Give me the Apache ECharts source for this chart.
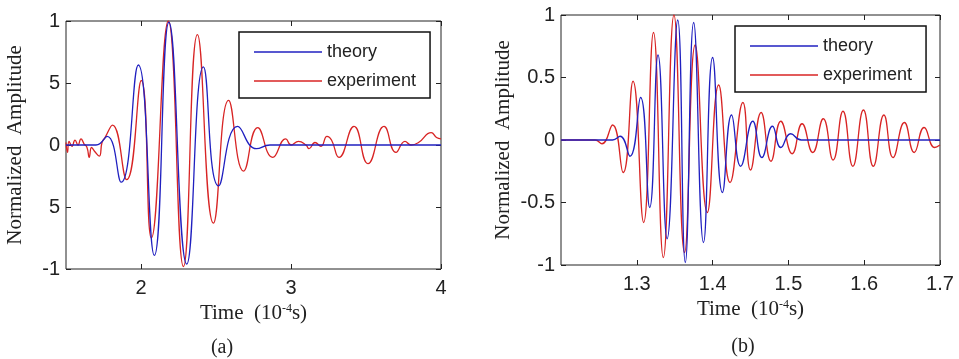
<!DOCTYPE html>
<html>
<head>
<meta charset="utf-8">
<script src="https://cdn.jsdelivr.net/npm/echarts@6/dist/echarts.min.js"></script>
<style>
  html, body { margin: 0; padding: 0; background: #fff; }
  #chart { width: 959px; height: 359px; }
</style>
</head>
<body>
<div id="chart"></div>
<script>
// (a) time in 1e-4 s, normalized amplitude
const leftTheory = [
  [1.5, 0], [1.70, 0], [1.774, 0.07], [1.868, -0.30], [1.982, 0.645],
  [2.089, -0.89], [2.186, 0.99], [2.305, -0.96], [2.416, 0.63],
  [2.517, -0.33], [2.644, 0.15], [2.77, -0.03], [2.86, 0], [4.0, 0]
];
const leftExperiment = [
  [1.5, 0.02], [1.51, -0.06], [1.52, 0.03], [1.54, -0.01], [1.56, 0.04],
  [1.58, 0.0], [1.60, 0.05], [1.62, 0.01], [1.64, -0.02], [1.655, -0.1],
  [1.67, -0.02], [1.69, -0.05], [1.722, -0.09], [1.74, 0.02], [1.76, 0.06],
  [1.81, 0.16], [1.905, -0.28], [2.002, 0.52], [2.069, -0.75], [2.182, 1.0],
  [2.283, -0.98], [2.376, 0.89], [2.483, -0.63], [2.584, 0.36],
  [2.684, -0.21], [2.778, 0.14], [2.878, -0.1], [2.965, 0.05], [3.0, 0.0],
  [3.05, 0.03], [3.1, 0.0], [3.12, -0.03], [3.16, 0.02], [3.2, -0.01],
  [3.24, 0.07], [3.27, 0.04], [3.32, -0.1], [3.42, 0.15], [3.513, -0.15],
  [3.62, 0.15], [3.70, -0.06], [3.76, 0.03], [3.80, 0.0], [3.85, 0.02],
  [3.935, 0.1], [3.97, 0.06], [4.0, 0.05]
];

// (b)
const rightTheory = [
  [1.2, 0], [1.268, 0], [1.278, 0.03], [1.291, -0.13], [1.305, 0.34],
  [1.317, -0.54], [1.328, 0.68], [1.340, -0.79], [1.354, 0.96],
  [1.364, -0.98], [1.375, 0.94], [1.388, -0.82], [1.400, 0.66],
  [1.413, -0.42], [1.425, 0.2], [1.437, -0.21], [1.453, 0.15],
  [1.465, -0.14], [1.479, 0.11], [1.490, -0.06], [1.503, 0.05],
  [1.517, 0], [1.7, 0]
];
const rightExperiment = [
  [1.2, 0], [1.245, 0], [1.254, -0.03], [1.268, 0.12], [1.282, -0.26],
  [1.295, 0.47], [1.309, -0.66], [1.322, 0.86], [1.335, -0.94],
  [1.349, 1.0], [1.363, -0.9], [1.377, 0.76], [1.393, -0.58],
  [1.408, 0.44], [1.423, -0.34], [1.440, 0.3], [1.450, -0.24],
  [1.464, 0.22], [1.477, -0.17], [1.490, 0.15], [1.505, -0.11],
  [1.518, 0.13], [1.532, -0.1], [1.546, 0.17], [1.559, -0.16],
  [1.572, 0.23], [1.585, -0.21], [1.599, 0.24], [1.612, -0.21],
  [1.626, 0.2], [1.638, -0.14], [1.653, 0.14], [1.666, -0.1],
  [1.679, 0.1], [1.693, -0.06], [1.7, -0.04]
];

const leftXTicks = [2, 3, 4];
const rightXTicks = [1.3, 1.4, 1.5, 1.6, 1.7];
const yTicks = [-1, -0.5, 0, 0.5, 1];
const leftYLabels = ['-1', '5', '0', '5', '1'];
const rightYLabels = ['-1', '-0.5', '0', '0.5', '1'];
const seriesNames = ['theory', 'experiment'];

const BLUE = '#2020c0';
const RED = '#d82424';
const INK = '#222';
const SANS = 'Liberation Sans';
const SERIF = 'Liberation Serif';

const chart = echarts.init(document.getElementById('chart'));

function xAxisPair(gridIndex, min, max, ticks) {
  return [
    {
      gridIndex, type: 'value', min, max, position: 'bottom',
      axisLine: { show: false, onZero: false },
      axisTick: { inside: true, length: 5, customValues: ticks, lineStyle: { color: INK } },
      axisLabel: {
        customValues: ticks, color: INK, fontFamily: SANS, fontSize: 20, margin: 9,
        formatter: (v) => String(v)
      },
      splitLine: { show: false },
      name: 'Time  (10{sup|-4}s)', nameLocation: 'middle', nameGap: 33,
      nameTextStyle: {
        fontFamily: SERIF, fontSize: 21, color: INK,
        rich: { sup: { fontFamily: SERIF, fontSize: 12, color: INK, verticalAlign: 'top' } }
      }
    },
    {
      gridIndex, type: 'value', min, max, position: 'top',
      axisLine: { show: false, onZero: false },
      axisTick: { inside: true, length: 5, customValues: ticks, lineStyle: { color: INK } },
      axisLabel: { show: false },
      splitLine: { show: false }
    }
  ];
}

function yAxisPair(gridIndex, labels, nameGap) {
  return [
    {
      gridIndex, type: 'value', min: -1, max: 1, interval: 0.5, position: 'left',
      axisLine: { show: false, onZero: false },
      axisTick: { inside: true, length: 5, lineStyle: { color: INK } },
      axisLabel: {
        color: INK, fontFamily: SANS, fontSize: 20, margin: 6,
        formatter: (v) => labels[yTicks.indexOf(v)]
      },
      splitLine: { show: false },
      name: 'Normalized  Amplitude', nameLocation: 'middle', nameGap,
      nameTextStyle: { fontFamily: SERIF, fontSize: 21, color: INK }
    },
    {
      gridIndex, type: 'value', min: -1, max: 1, interval: 0.5, position: 'right',
      axisLine: { show: false, onZero: false },
      axisTick: { inside: true, length: 5, lineStyle: { color: INK } },
      axisLabel: { show: false },
      splitLine: { show: false }
    }
  ];
}

function legendAt(left, top) {
  return {
    data: seriesNames, orient: 'vertical', left, top,
    icon: 'rect', itemWidth: 68, itemHeight: 1.5, itemGap: 9,
    padding: [10, 14, 7, 15],
    borderColor: '#111', borderWidth: 1.5, backgroundColor: '#fff',
    selectedMode: false,
    textStyle: { fontFamily: SANS, fontSize: 18, color: INK, lineHeight: 20 }
  };
}

function line(name, data, color, xi, yi) {
  return {
    name, type: 'line', data, xAxisIndex: xi, yAxisIndex: yi,
    showSymbol: false, symbol: 'none', smooth: 0.5,
    lineStyle: { color, width: 1.3 }, itemStyle: { color },
    z: name === 'theory' ? 3 : 2
  };
}

const option = {
  animation: false,
  backgroundColor: '#fff',
  grid: [
    { left: 66, top: 21, width: 375, height: 248, show: true, borderColor: INK, borderWidth: 1 },
    { left: 561, top: 15, width: 379, height: 250, show: true, borderColor: INK, borderWidth: 1 }
  ],
  xAxis: [...xAxisPair(0, 1.5, 4, leftXTicks), ...xAxisPair(1, 1.2, 1.7, rightXTicks)],
  yAxis: [...yAxisPair(0, leftYLabels, 40), ...yAxisPair(1, rightYLabels, 47)],
  legend: [legendAt(239, 32), legendAt(735, 26)],
  graphic: [
    { type: 'text', x: 222, y: 348, style: { text: '(a)', font: '20px "Liberation Serif"', fill: INK, textAlign: 'center', textVerticalAlign: 'middle' } },
    { type: 'text', x: 743, y: 347, style: { text: '(b)', font: '20px "Liberation Serif"', fill: INK, textAlign: 'center', textVerticalAlign: 'middle' } }
  ],
  series: [
    line('experiment', leftExperiment, RED, 0, 0),
    line('theory', leftTheory, BLUE, 0, 0),
    line('experiment', rightExperiment, RED, 2, 2),
    line('theory', rightTheory, BLUE, 2, 2)
  ]
};

chart.setOption(option);
</script>
</body>
</html>
